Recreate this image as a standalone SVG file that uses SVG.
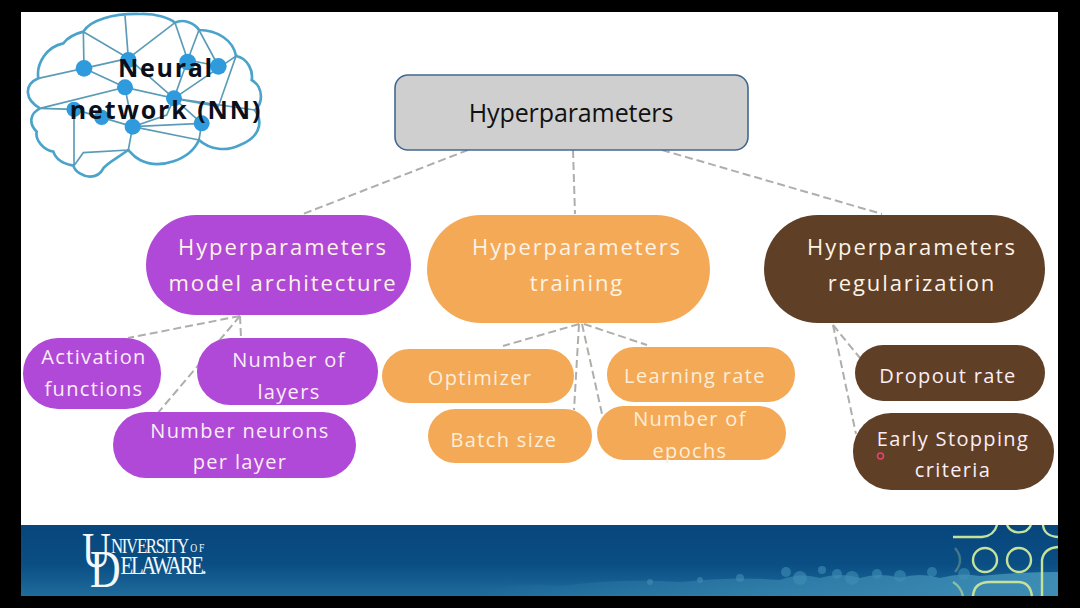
<svg xmlns="http://www.w3.org/2000/svg" width="1080" height="608" viewBox="0 0 1080 608">
<style>
text{font-family:"Open Sans","Noto Sans","Liberation Sans",sans-serif;text-anchor:middle}
.l{fill:#fdf3e6;font-size:22px;letter-spacing:1.9px}
.m{font-size:20px;letter-spacing:1.35px;fill:#fbeef6}
.o{fill:#fdeed8}
.c{fill:none;stroke:#aeaeaa;stroke-width:2;stroke-dasharray:8 4}
.p{fill:#b048d8}.a{fill:#f4a957}.b{fill:#5f3f26}
.bl{fill:none;stroke:#4ba3cb;stroke-width:8}
.bi{fill:none;stroke:#5a9cb8;stroke-width:5}
.n{fill:#2f9bdc}
.g{fill:none;stroke:#c6e29a;stroke-width:2.4}
#logo text{font-family:"Liberation Serif",serif;fill:#f2f8fb;text-anchor:start}
</style>
<defs>
<linearGradient id="band" x1="0" y1="0" x2="0" y2="1">
<stop offset="0" stop-color="#07467c"/><stop offset=".55" stop-color="#0a4e84"/><stop offset="1" stop-color="#1f6c9c"/>
</linearGradient>
<linearGradient id="fade" x1="0" y1="0" x2="1" y2="0">
<stop offset="0" stop-color="#3f8fb6" stop-opacity="0"/><stop offset=".5" stop-color="#3f8fb6" stop-opacity=".55"/><stop offset="1" stop-color="#3f8fb6" stop-opacity=".95"/>
</linearGradient>
</defs>
<rect width="1080" height="608" fill="#000"/>
<rect x="21" y="12" width="1037" height="514" fill="#fff"/>
<g id="footer">
<rect x="21" y="525" width="1037" height="71" fill="url(#band)"/>
<g fill="url(#fade)">
<path d="M480,596 V590 Q520,582 560,586 Q620,578 680,582 Q730,576 780,580 Q800,572 820,578 Q840,572 860,578 Q880,572 900,578 Q920,572 940,578 Q960,572 980,576 Q1020,572 1058,572 V596 Z"/>
</g>
<g fill="#3f8fb6" opacity=".6">
<circle cx="786" cy="572" r="5"/><circle cx="800" cy="578" r="7"/><circle cx="822" cy="570" r="4"/><circle cx="837" cy="574" r="5"/><circle cx="852" cy="578" r="7"/><circle cx="877" cy="574" r="5"/><circle cx="900" cy="576" r="6"/><circle cx="932" cy="572" r="5"/><circle cx="964" cy="574" r="6"/><circle cx="740" cy="578" r="4"/><circle cx="700" cy="580" r="3"/><circle cx="650" cy="582" r="3"/>
</g>
<path class="g" d="M953,537 H982 Q994,536 997,525"/>
<path class="g" d="M1007,525 A13,12 0 0 0 1031,525"/>
<path class="g" d="M1043,525 Q1044,536 1058,537"/>
<circle class="g" cx="985" cy="560" r="12"/>
<circle class="g" cx="1019" cy="560" r="12"/>
<path class="g" d="M1042,596 V560 Q1044,548 1058,547"/>
<path class="g" d="M973,596 Q974,582 990,582 H1018 Q1030,582 1032,596"/>
<path class="g" d="M953,582 Q961,587 963,596" opacity=".6"/>
<path class="g" d="M955,548 Q965,560 955,572" opacity=".3"/>
<g id="logo" transform="scale(.8,1)">
<text x="102.500" y="553"><tspan font-size="50" dy="14">U</tspan><tspan font-size="21" letter-spacing="-1.6" dy="-14">NIVERSITY</tspan><tspan font-size="12" letter-spacing="2" dx="3" dy="-1">OF</tspan></text>
<text x="112.500" y="574"><tspan font-size="53" dy="13">D</tspan><tspan font-size="26" letter-spacing="-3" dy="-13">ELAWARE.</tspan></text>
</g>
</g>
<g id="connectors">
<path class="c" d="M468,150 L303,214"/>
<path class="c" d="M573,150 L575,214"/>
<path class="c" d="M662,150 L882,214"/>
<path class="c" d="M240,316 L128,338"/>
<path class="c" d="M240,316 L241,338"/>
<path class="c" d="M240,316 L157,414"/>
<path class="c" d="M579,324 L503,346"/>
<path class="c" d="M579,324 L574,410"/>
<path class="c" d="M582,324 L602,414"/>
<path class="c" d="M584,324 L647,345"/>
<path class="c" d="M833,325 L860,358"/>
<path class="c" d="M833,325 L856,434"/>
</g>
<g id="brain" transform="scale(.33333)">
<path class="bl" d="M120,325 C75,300 70,255 115,235 C108,190 140,140 190,130 C205,110 230,100 250,95 C270,60 340,40 420,42 C470,40 510,55 525,68 C550,55 585,70 597,90 C650,90 700,120 708,168 C745,175 760,215 755,240 C790,260 790,310 765,330 C795,375 770,415 720,435 C680,455 630,450 597,420 C570,480 480,510 420,480 C400,470 390,455 385,450 C350,475 320,490 310,505 C300,525 285,530 270,530 C250,530 225,515 220,497 C180,490 165,470 160,455 C130,450 105,420 110,395 C85,370 90,340 120,325"/>
<path class="bi" d="M250,95 L252,205 L115,235 M250,95 L385,175 L375,47 M385,175 L525,68 M385,175 L252,205 L375,262 L120,325 L222,328 L222,497 L250,458 L385,450 L398,380 L305,352 L222,328 M375,262 L398,380 L605,370 L597,420 M398,380 L597,420 M375,262 L522,295 L563,180 L525,68 M563,180 L597,90 L655,198 M522,295 L708,168 L655,320 L522,295 L500,345 L398,380 M522,295 L605,370 M522,295 L765,330 M385,175 L522,295 M563,180 L655,198"/>
<g class="n">
<circle cx="252" cy="205" r="25"/><circle cx="385" cy="180" r="24"/><circle cx="563" cy="186" r="25"/><circle cx="655" cy="199" r="25"/><circle cx="375" cy="262" r="24"/><circle cx="522" cy="295" r="24"/><circle cx="222" cy="328" r="23"/><circle cx="305" cy="352" r="23"/><circle cx="398" cy="380" r="24"/><circle cx="605" cy="370" r="24"/>
</g>
</g>
<g id="nn-label">
<text x="166" y="77" font-size="25" font-weight="700" fill="#0a0f1a" letter-spacing="1.7">Neural</text>
<text x="166" y="119" font-size="25" font-weight="700" fill="#0a0f1a" letter-spacing="1.9">network (NN)</text>
</g>
<g id="root">
<rect x="395" y="75" width="353" height="75" rx="13" fill="#cfcfcf" stroke="#42688f" stroke-width="1.6"/>
<text x="571" y="122" font-size="25" fill="#111" letter-spacing="-.1">Hyperparameters</text>
</g>
<g id="arch">
<rect class="p" x="146" y="215" width="265" height="100" rx="50"/>
<text class="l" x="283" y="255" fill="#fbeef6">Hyperparameters</text>
<text class="l" x="283" y="291" fill="#fbeef6">model architecture</text>
</g>
<g id="train">
<rect class="a" x="427" y="215" width="283" height="108" rx="54"/>
<text class="l" x="577" y="255">Hyperparameters</text>
<text class="l" x="577" y="291">training</text>
</g>
<g id="reg">
<rect class="b" x="764" y="215" width="281" height="108" rx="54"/>
<text class="l" x="912" y="255">Hyperparameters</text>
<text class="l" x="912" y="291">regularization</text>
</g>
<g id="activation">
<rect class="p" x="23" y="338" width="138" height="71" rx="35"/>
<text class="m" x="94" y="364">Activation</text>
<text class="m" x="94" y="396">functions</text>
</g>
<g id="layers">
<rect class="p" x="197" y="338" width="181" height="67" rx="33"/>
<text class="m" x="289" y="367">Number of</text>
<text class="m" x="289" y="399">layers</text>
</g>
<g id="neurons">
<rect class="p" x="113" y="412" width="243" height="66" rx="33"/>
<text class="m" x="240" y="438">Number neurons</text>
<text class="m" x="240" y="469">per layer</text>
</g>
<g id="optimizer">
<rect class="a" x="382" y="349" width="192" height="54" rx="27"/>
<text class="m o" x="480" y="385">Optimizer</text>
</g>
<g id="learning">
<rect class="a" x="607" y="347" width="188" height="55" rx="27"/>
<text class="m o" x="695" y="383">Learning rate</text>
</g>
<g id="batch">
<rect class="a" x="428" y="409" width="164" height="54" rx="27"/>
<text class="m o" x="504" y="447">Batch size</text>
</g>
<g id="epochs">
<rect class="a" x="597" y="406" width="189" height="54" rx="27"/>
<text class="m o" x="690" y="426">Number of</text>
<text class="m o" x="690" y="458">epochs</text>
</g>
<g id="dropout">
<rect class="b" x="855" y="345" width="190" height="56" rx="28"/>
<text class="m" x="948" y="383" fill="#fdf3e6">Dropout rate</text>
</g>
<g id="early">
<rect class="b" x="853" y="413" width="201" height="77" rx="38"/>
<text class="m" x="953" y="446" fill="#fdf3e6">Early Stopping</text>
<text class="m" x="953" y="477" fill="#fdf3e6">criteria</text>
<circle cx="880.500" cy="456" r="3" fill="none" stroke="#e8436e" stroke-width="1.500"/>
</g>
</svg>
